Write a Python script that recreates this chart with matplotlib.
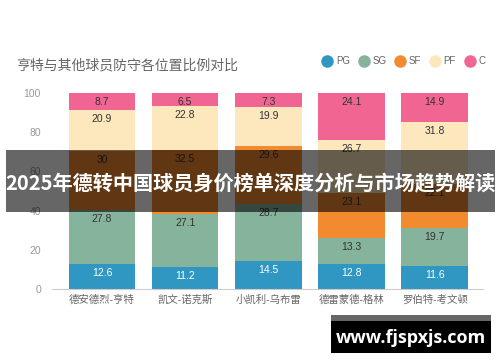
import matplotlib
matplotlib.use('Agg')
import matplotlib.pyplot as plt
from matplotlib.lines import Line2D
from matplotlib.patches import Rectangle
import numpy as np

plt.rcParams['font.family'] = ['Liberation Sans', 'Noto Sans CJK SC', 'DejaVu Sans']

players = ['德安德烈-亨特', '凯文-诺克斯', '小凯利-乌布雷', '德雷蒙德-格林', '罗伯特-考文顿']
positions = ['PG', 'SG', 'SF', 'PF', 'C']
pg = [12.6, 11.2, 14.5, 12.8, 11.6]
sg = [27.8, 27.1, 28.7, 13.3, 19.7]
sf = [30, 32.5, 29.6, 23.1, 22.1]
pf = [20.9, 22.8, 19.9, 26.7, 31.8]
c = [8.7, 6.5, 7.3, 24.1, 14.9]
colors = ['#2f97c1', '#86b39c', '#f28a30', '#fde7bd', '#f06591']
label_colors = ['white', '#333333', '#333333', '#333333', '#333333']

fig = plt.figure(figsize=(5, 3.62), dpi=100)
ax = fig.add_axes([52 / 500, 73 / 362, 431 / 500, 196 / 362])

x = np.arange(len(players))
bottom = np.zeros(len(players))
for vals, col, lc in zip([pg, sg, sf, pf, c], colors, label_colors):
    vals = np.array(vals)
    ax.bar(x, vals, 0.8, bottom=bottom, color=col, zorder=2)
    for xi, b, v in zip(x, bottom, vals):
        ax.annotate(f'{v:g}', (xi, b + v), xytext=(0, -6.5), textcoords='offset points',
                    ha='center', va='center', fontsize=7.5, color=lc, zorder=3)
    bottom += vals

ax.set_xlim(-0.6, 4.58)
ax.set_ylim(0, 100)
ax.set_yticks([0, 20, 40, 60, 80, 100])
ax.set_xticks(x)
ax.set_xticklabels(players, fontsize=7.5, color='#666666')
ax.tick_params(axis='y', length=0, labelsize=7.5, labelcolor='#999999', pad=8)
ax.tick_params(axis='x', length=0, pad=4)
for s in ['top', 'right', 'left']:
    ax.spines[s].set_visible(False)
ax.spines['bottom'].set_color('#cccccc')

fig.text(16 / 500, 1 - 65 / 362, '亨特与其他球员防守各位置比例对比', fontsize=10,
         color='#666666', va='center', ha='left')

handles = [Line2D([], [], marker='o', linestyle='none', markersize=8,
                  markerfacecolor=col, markeredgecolor=col) for col in colors]
fig.legend(handles, positions, loc='center right', bbox_to_anchor=(494 / 500, 1 - 61 / 362),
           ncol=5, frameon=False, fontsize=7, labelcolor='#666666',
           handletextpad=0.3, columnspacing=0.8, handlelength=1.2)

# overlay banner
fig.patches.append(Rectangle((6 / 500, 1 - 212 / 362), 489 / 500, 62 / 362,
                             transform=fig.transFigure, facecolor='black', alpha=0.6,
                             edgecolor='none', zorder=5))
fig.text(250 / 500, 1 - 183 / 362, '2025年德转中国球员身价榜单深度分析与市场趋势解读',
         fontsize=14.5, fontweight='bold', color='white', ha='center', va='center',
         family=['Noto Sans CJK SC', 'DejaVu Sans'], zorder=6)

# watermark
fig.patches.append(Rectangle((331 / 500, 1 - 353 / 362), 160 / 500, 38 / 362,
                             transform=fig.transFigure, facecolor='black',
                             edgecolor='none', zorder=5))
fig.patches.append(Rectangle((331 / 500, 1 - 321 / 362), 160 / 500, 6 / 362,
                             transform=fig.transFigure, facecolor='#666666',
                             edgecolor='none', zorder=6))
fig.text(411 / 500, 1 - 338 / 362, 'www.fjspxjs.com', fontsize=13, fontweight='bold',
         color='white', ha='center', va='center', family=['Open Sans', 'DejaVu Sans'], zorder=7)

fig.savefig('out.png', dpi=100)
